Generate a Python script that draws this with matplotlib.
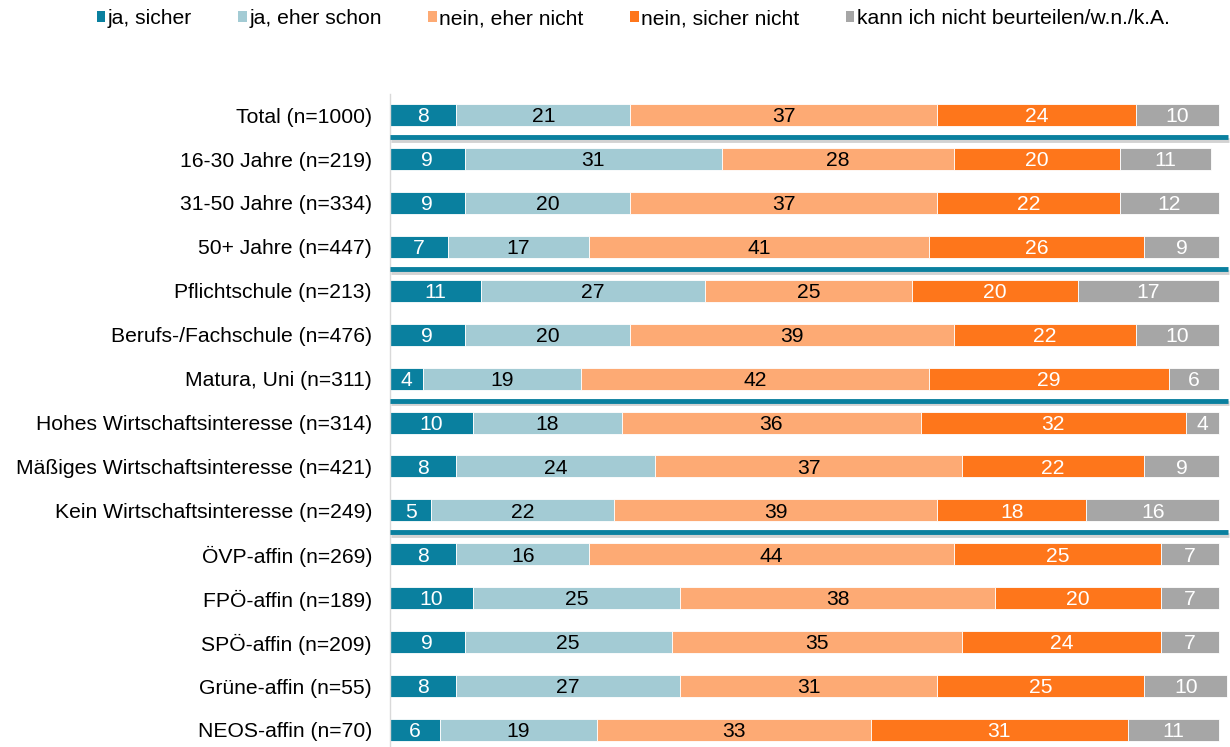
import matplotlib
matplotlib.use("Agg")
import matplotlib.pyplot as plt
import matplotlib.patheffects as pe
from matplotlib.patches import Patch
import numpy as np

categories = ["Total (n=1000)", "16-30 Jahre (n=219)", "31-50 Jahre (n=334)", "50+ Jahre (n=447)",
              "Pflichtschule (n=213)", "Berufs-/Fachschule (n=476)", "Matura, Uni (n=311)",
              "Hohes Wirtschaftsinteresse (n=314)", "Mäßiges Wirtschaftsinteresse (n=421)",
              "Kein Wirtschaftsinteresse (n=249)", "ÖVP-affin (n=269)", "FPÖ-affin (n=189)",
              "SPÖ-affin (n=209)", "Grüne-affin (n=55)", "NEOS-affin (n=70)"]
series_names = ["ja, sicher", "ja, eher schon", "nein, eher nicht", "nein, sicher nicht",
                "kann ich nicht beurteilen/w.n./k.A."]
ja_sicher = [8, 9, 9, 7, 11, 9, 4, 10, 8, 5, 8, 10, 9, 8, 6]
ja_eher = [21, 31, 20, 17, 27, 20, 19, 18, 24, 22, 16, 25, 25, 27, 19]
nein_eher = [37, 28, 37, 41, 25, 39, 42, 36, 37, 39, 44, 38, 35, 31, 33]
nein_sicher = [24, 20, 22, 26, 20, 22, 29, 32, 22, 18, 25, 20, 24, 25, 31]
kA = [10, 11, 12, 9, 17, 10, 6, 4, 9, 16, 7, 7, 7, 10, 11]
separators_after = [0, 3, 6, 9]

colors = ["#0A809F", "#A3CBD4", "#FDAA74", "#FE761B", "#A6A6A6"]
text_colors = ["white", "black", "black", "white", "white"]

plt.rcParams['font.family'] = ['Liberation Sans', 'DejaVu Sans']
FS = 15.2

fig = plt.figure(figsize=(12.3, 7.47), dpi=100)
W, H = 1230, 747
ax_left, ax_right = 390, 1228
ax_top, ax_bottom = 94, 747
ax = fig.add_axes([ax_left / W, (H - ax_bottom) / H, (ax_right - ax_left) / W, (ax_bottom - ax_top) / H])

data = [ja_sicher, ja_eher, nein_eher, nein_sicher, kA]
y = np.arange(len(categories))
left = np.zeros(len(categories))
for vals, col, tcol, name in zip(data, colors, text_colors, series_names):
    vals = np.array(vals, dtype=float)
    ax.barh(y, vals, left=left, height=0.5, color=col, edgecolor='white', linewidth=0.6, label=name)
    for yi, (l, v) in enumerate(zip(left, vals)):
        ax.text(l + v / 2, yi + 0.04, f"{int(v)}", ha='center', va='center', color=tcol, fontsize=FS)
    left += vals

xmax = (ax_right - ax_left) / 8.29
ax.set_xlim(0, xmax)
ax.set_ylim(14 + (747 - 730) / 43.86, -0.48)
ax.set_yticks(y)
ax.set_yticklabels(categories, fontsize=FS)
ax.tick_params(axis='y', length=0, pad=13)
ax.set_xticks([])
for s in ['top', 'right', 'bottom']:
    ax.spines[s].set_visible(False)
ax.spines['left'].set_color('#D9D9D9')
ax.spines['left'].set_linewidth(1)

for s in separators_after:
    ax.plot([0, xmax], [s + 0.5, s + 0.5], color="#0A809F", linewidth=3.5, solid_capstyle='butt',
            clip_on=False, zorder=5,
            path_effects=[pe.SimpleLineShadow(offset=(0.5, -2), shadow_color='gray', alpha=0.35, linewidth=3.5),
                          pe.Normal()])

handles = [Patch(facecolor=c, edgecolor='none') for c in colors]
fig.legend(handles, series_names, loc='center', bbox_to_anchor=(633 / W, 1 - 19 / H), ncol=5,
           frameon=False, fontsize=FS, handlelength=0.42, handleheight=0.42, handletextpad=0.1,
           columnspacing=2.2, borderaxespad=0)

fig.savefig("out.png", dpi=100)
